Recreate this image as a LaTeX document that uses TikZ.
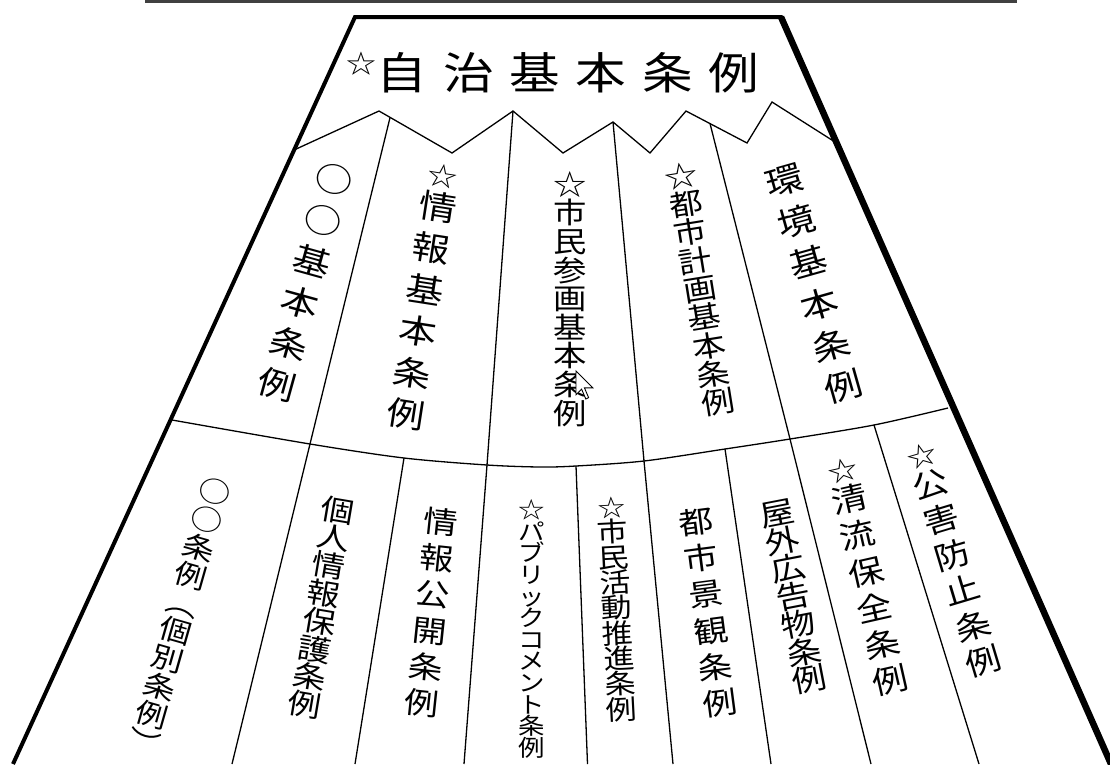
\documentclass[tikz,border=0pt]{standalone}
\usepackage{fontspec}
\newfontfamily\jp{Noto Sans CJK JP}[FakeStretch=1.15]
\XeTeXuseglyphmetrics=0
\lineskiplimit=-1000pt
\newcommand\colfont[2]{\jp\fontsize{#1}{#2}\selectfont\lineskiplimit=-1000pt}
\newcommand\smallstar[1]{\vphantom{情}{\fontsize{#1}{#1}\selectfont ☆}}
\definecolor{topgray}{RGB}{64,64,64}
\tikzset{
  rim/.style={line width=4pt, line join=miter},
  rimthick/.style={line width=6.5pt},
  divider/.style={line width=1.3pt, line join=miter},
  coltext/.style={align=center, inner sep=0pt, anchor=center},
  cursorshape/.style={fill=white, draw=black, line width=0.9pt, line join=miter},
}
\begin{document}
\begin{tikzpicture}[x=1pt,y=-1pt]
\useasboundingbox (0,0) rectangle (1110,764);
% frame
\coordinate (topL) at (145,1.5);
\coordinate (topR) at (1017,1.5);
\coordinate (tl) at (355,17);
\coordinate (tr) at (781,17);
\coordinate (bl) at (13,764);
\coordinate (br) at (1111,764);
\draw[line width=3pt, topgray] (topL) -- (topR);
\draw[rim] (bl) -- (tl) -- (tr) -- (br);
\draw[rimthick] (tr) -- (br);
% zigzag
\coordinate (z0) at (294,150);
\coordinate (z1) at (379,111);
\coordinate (z2) at (452,153);
\coordinate (z3) at (513,111);
\coordinate (z4) at (563,153);
\coordinate (z5) at (613,122);
\coordinate (z6) at (650,153);
\coordinate (z7) at (686,111);
\coordinate (z8) at (747,143);
\coordinate (z9) at (772,102);
\coordinate (z10) at (835,142);
\draw[divider] (z0) -- (z1) -- (z2) -- (z3) -- (z4) -- (z5) -- (z6) -- (z7) -- (z8) -- (z9) -- (z10);
% arc
\coordinate (a0) at (172,420);
\coordinate (a1) at (310,444);
\coordinate (a2) at (404,458);
\coordinate (a3) at (487,465);
\coordinate (a4) at (576,466);
\coordinate (a5) at (644,461);
\coordinate (a6) at (725,449);
\coordinate (a7) at (790,439);
\coordinate (a8) at (874,425);
\coordinate (a9) at (948,408);
\draw[divider] plot[smooth, tension=0.5] coordinates {(172,420) (310,444) (404,458) (487,465) (540,467) (576,466) (644,461) (725,449) (790,439) (874,425) (948,408)};
% dividers
\coordinate (d1t) at (390,117.7);
\coordinate (d2t) at (z3);
\coordinate (d3t) at (z5);
\coordinate (d4t) at (710,123.5);
\coordinate (b1b) at (232,764);
\coordinate (b2b) at (355,764);
\coordinate (b3b) at (464,764);
\coordinate (b4b) at (587.5,764);
\coordinate (b5b) at (673,764);
\coordinate (b6b) at (771,764);
\coordinate (b7b) at (871,764);
\coordinate (b8b) at (979,764);
\draw[divider] (d1t) -- (a1) -- (b1b);
\draw[divider] (d2t) -- (a3) -- (b3b);
\draw[divider] (d3t) -- (a5) -- (b5b);
\draw[divider] (d4t) -- (a7) -- (b7b);
\draw[divider] (a2) -- (b2b);
\draw[divider] (a4) -- (b4b);
\draw[divider] (a6) -- (b6b);
\draw[divider] (a8) -- (b8b);
% title
\node[anchor=base west, inner sep=0pt, font=\jp\fontsize{44}{50}\selectfont] (title) at (345.8,89)
  {\raisebox{15.1pt}{\fontsize{26}{26}\selectfont ☆}\kern1pt 自\kern15.7pt 治\kern15.7pt 基\kern15.7pt 本\kern15.7pt 条\kern15.7pt 例};
% upper columns
\node[coltext, rotate=-15.5, font=\colfont{33}{42.6}] (c1) at (306.5,280.5) {○\\○\\基\\本\\条\\例};
\node[coltext, rotate=-8.8, font=\colfont{33}{42}] (c2) at (424.6,291.9) {\smallstar{26}\\[-8.4pt]情\\報\\基\\本\\条\\例};
\node[coltext, rotate=0, font=\colfont{29}{28.6}] (c3) at (570.5,297) {☆\\市\\民\\参\\画\\基\\本\\条\\例};
\node[coltext, rotate=9.2, font=\colfont{29}{28.7}] (c4) at (699.5,287.5) {☆\\都\\市\\計\\画\\基\\本\\条\\例};
\node[coltext, rotate=15.8, font=\colfont{33}{43}] (c5) at (813.25,281.5) {環\\境\\基\\本\\条\\例};
% lower columns
\node[coltext, rotate=-15.9, font=\colfont{28}{29}] (l1) at (179.8,615.7) {○\\○\\条\\例\\︵\\個\\別\\条\\例\\︶};
\node[coltext, rotate=-9.6, font=\colfont{29}{28.2}] (l2) at (322,605.75) {個\\人\\情\\報\\保\\護\\条\\例};
\node[coltext, rotate=-6, font=\colfont{30}{36.3}] (l3) at (431.5,610.75) {情\\報\\公\\開\\条\\例};
\node[coltext, rotate=0, font=\colfont{23}{21.6}] (l4) at (532,627.5) {☆\\パ\\ブ\\リ\\ッ\\ク\\コ\\メ\\ン\\ト\\条\\例};
\node[coltext, rotate=2.9, font=\colfont{27}{25.4}] (l5) at (616.4,606.2) {\smallstar{24}\\市\\民\\活\\動\\推\\進\\条\\例};
\node[coltext, rotate=7.5, font=\colfont{30}{36.6}] (l6) at (708,610.75) {都\\市\\景\\観\\条\\例};
\node[coltext, rotate=10.9, font=\colfont{30}{28.2}] (l7) at (793,594.5) {屋\\外\\広\\告\\物\\条\\例};
\node[coltext, rotate=12.8, font=\colfont{31}{37.1}] (l8) at (866.1,572.8) {\smallstar{26}\\[-6pt]清\\流\\保\\全\\条\\例};
\node[coltext, rotate=16.7, font=\colfont{31}{37}] (l9) at (952,555.9) {\smallstar{26}\\[-5.5pt]公\\害\\防\\止\\条\\例};
% mouse pointer
\draw[cursorshape] (576,371) -- (576,394.8) -- (581.6,389.2) -- (585.8,399) -- (588.6,397.6) -- (584.4,387.8) -- (592.8,387.8) -- cycle;
\end{tikzpicture}
\end{document}
